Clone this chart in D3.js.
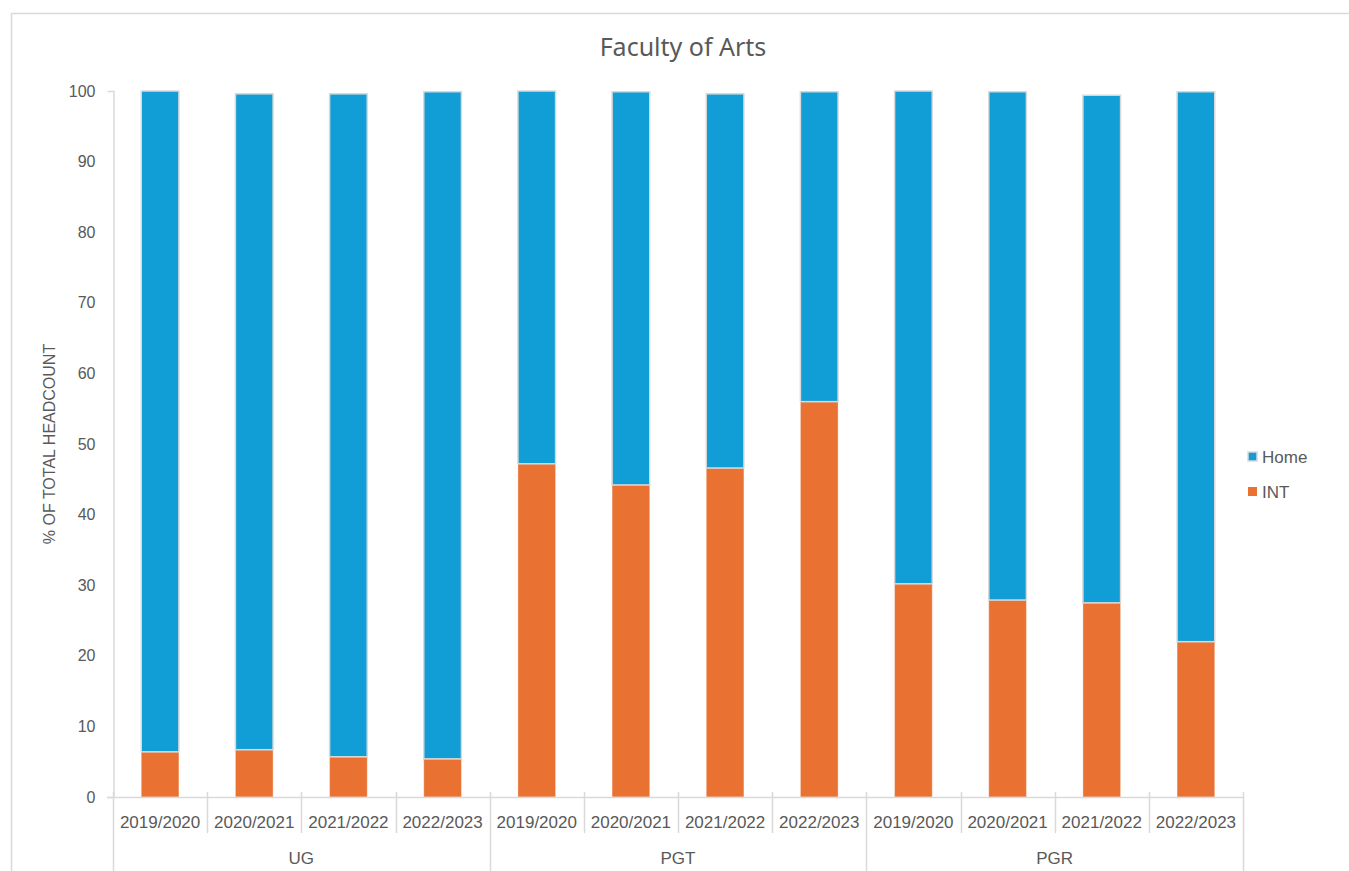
<!DOCTYPE html>
<html>
<head>
<meta charset="utf-8">
<script src="https://cdn.jsdelivr.net/npm/d3@7"></script>
<style>
  body { margin: 0; background: #fff; }
  svg text { font-family: "Liberation Sans", Arial, sans-serif; fill: #595959; }
</style>
</head>
<body>
<div id="chart"></div>
<script>
// Chart data
var groups = ["UG", "PGT", "PGR"];
var years = ["2019/2020", "2020/2021", "2021/2022", "2022/2023"];
// percentages in order UG x4, PGT x4, PGR x4
var intValues = [6.4, 6.7, 5.7, 5.4, 47.2, 44.2, 46.6, 56.0, 30.2, 27.9, 27.5, 22.0];
var homeValues = [93.6, 92.9, 93.9, 94.5, 52.8, 55.7, 53.0, 43.9, 69.8, 72.0, 71.9, 77.9];
var yTicks = [0, 10, 20, 30, 40, 50, 60, 70, 80, 90, 100];
var seriesNames = ["Home", "INT"];

var width = 1349;
var height = 871;
var colorHome = "#119ED6";
var colorInt = "#E97132";

// one entry for each bar
var data = [];
groups.forEach(function (g, gi) {
    years.forEach(function (y, yi) {
        var i = gi * years.length + yi;
        data.push({ key: g + "|" + y, group: g, year: y, int: intValues[i], home: homeValues[i] });
    });
});

var svg = d3.select("#chart")
    .append("svg")
    .attr("width", width)
    .attr("height", height);

// chart border (runs off right and bottom like the original)
svg.append("rect")
    .attr("x", 11.5).attr("y", 13.5)
    .attr("width", 1400).attr("height", 900)
    .attr("fill", "none")
    .attr("stroke", "#d9d9d9")
    .attr("stroke-width", 1.5);

var xScale = d3.scaleBand()
    .domain(data.map(function (d) { return d.key; }))
    .range([113, 1243])
    .paddingInner(0.6)
    .paddingOuter(0.3);

var yScale = d3.scaleLinear()
    .domain([0, 100])
    .range([797, 91]);

// title
svg.append("text")
    .attr("x", 683)
    .attr("y", 56)
    .attr("text-anchor", "middle")
    .style("font-family", "'Noto Sans', 'Open Sans', sans-serif")
    .style("font-size", "25px")
    .text("Faculty of Arts");

// y axis
var yAxis = d3.axisLeft(yScale)
    .tickValues(yTicks)
    .tickSizeInner(0)
    .tickSizeOuter(6)
    .tickPadding(18);

var gy = svg.append("g")
    .attr("transform", "translate(113.5,0)")
    .call(yAxis);
gy.select(".domain").attr("stroke", "#d9d9d9").attr("stroke-width", 1.5);
gy.selectAll("text")
    .style("font-size", "16px")
    .style("font-family", "'Liberation Sans', Arial, sans-serif")
    .attr("fill", "#595959");

svg.append("text")
    .attr("transform", "translate(55,444) rotate(-90)")
    .attr("text-anchor", "middle")
    .style("font-size", "16px")
    .text("% OF TOTAL HEADCOUNT");

// bars
var bars = svg.append("g");

bars.selectAll("rect.int")
    .data(data)
    .enter()
    .append("rect")
        .attr("class", "int")
        .attr("x", function (d) { return xScale(d.key); })
        .attr("width", xScale.bandwidth())
        .attr("y", function (d) { return yScale(d.int); })
        .attr("height", function (d) { return yScale(0) - yScale(d.int); })
        .attr("fill", colorInt)
        .attr("stroke", "rgba(255,255,255,0.35)")
        .attr("stroke-width", 1);

bars.selectAll("rect.home")
    .data(data)
    .enter()
    .append("rect")
        .attr("class", "home")
        .attr("x", function (d) { return xScale(d.key); })
        .attr("width", xScale.bandwidth())
        .attr("y", function (d) { return yScale(d.int + d.home); })
        .attr("height", function (d) { return yScale(d.int) - yScale(d.int + d.home); })
        .attr("fill", colorHome)
        .attr("stroke", "#d9d9d9")
        .attr("stroke-width", 1.5);

// x axis: line, category dividers and labels
var step = xScale.step();
var x0 = xScale.range()[0];
var axisG = svg.append("g").attr("stroke", "#d9d9d9").attr("stroke-width", 1.5);

axisG.append("line")
    .attr("x1", 107).attr("x2", 1243)
    .attr("y1", yScale(0) + 0.5).attr("y2", yScale(0) + 0.5);

for (var i = 0; i <= data.length; i++) {
    var xx = Math.round(x0 + i * step) + 0.5;
    var isGroupEdge = (i % years.length === 0);
    axisG.append("line")
        .attr("x1", xx).attr("x2", xx)
        .attr("y1", 792)
        .attr("y2", isGroupEdge ? 875 : 833);
}

svg.selectAll("text.year")
    .data(data)
    .enter()
    .append("text")
        .attr("class", "year")
        .attr("x", function (d) { return xScale(d.key) + xScale.bandwidth() / 2; })
        .attr("y", 828)
        .attr("text-anchor", "middle")
        .style("font-size", "17px")
        .text(function (d) { return d.year; });

svg.selectAll("text.group")
    .data(groups)
    .enter()
    .append("text")
        .attr("class", "group")
        .attr("x", function (g, gi) { return x0 + (gi + 0.5) * years.length * step; })
        .attr("y", 864)
        .attr("text-anchor", "middle")
        .style("font-size", "17px")
        .text(function (g) { return g; });

// legend
var legend = svg.append("g")
    .attr("transform", "translate(1248,452)");

var legendItems = legend.selectAll("g")
    .data(seriesNames)
    .enter()
    .append("g")
        .attr("transform", function (d, i) { return "translate(0," + (i * 35) + ")"; });

legendItems.append("rect")
    .attr("width", 9)
    .attr("height", 9)
    .attr("fill", function (d) { return d === "Home" ? colorHome : colorInt; })
    .attr("stroke", function (d) { return d === "Home" ? "#d9d9d9" : "none"; })
    .attr("stroke-width", 1.5);

legendItems.append("text")
    .attr("x", 14)
    .attr("y", 11)
    .style("font-size", "17px")
    .text(function (d) { return d; });
</script>
</body>
</html>
